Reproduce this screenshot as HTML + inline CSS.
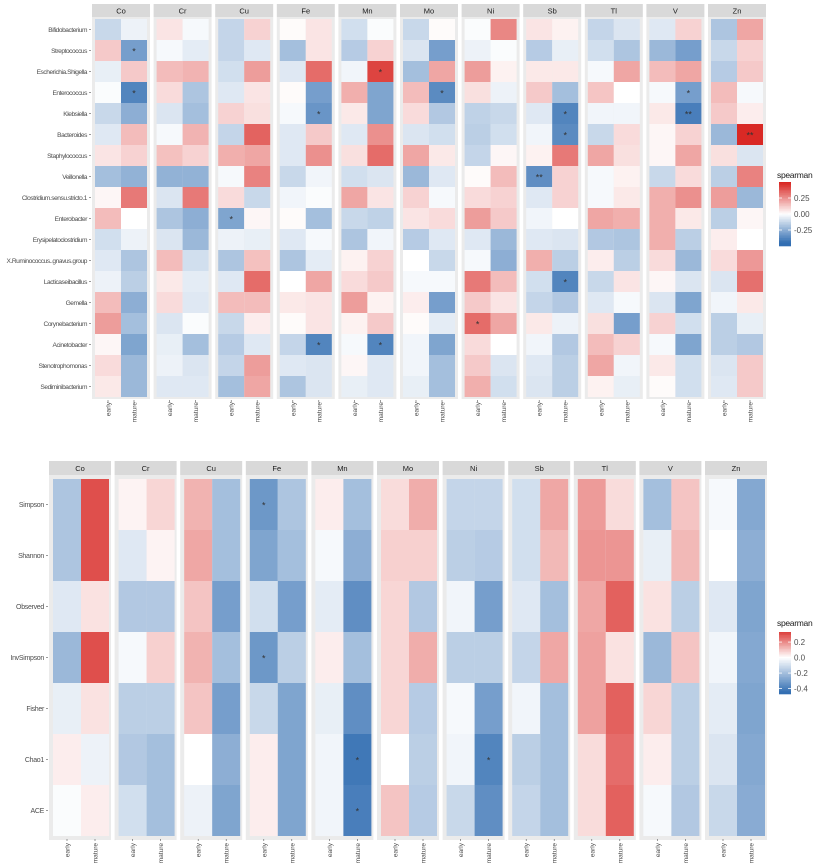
<!DOCTYPE html>
<html><head><meta charset="utf-8">
<style>
html,body{margin:0;padding:0;background:#fff;}
svg{display:block;font-family:"Liberation Sans",sans-serif;}
</style></head>
<body>
<svg id="chart" width="817" height="868" viewBox="0 0 817 868" xmlns="http://www.w3.org/2000/svg"></svg>
<script>
const metals = ["Co","Cr","Cu","Fe","Mn","Mo","Ni","Sb","Tl","V","Zn"];
const stages = ["early","mature"];
const topTaxa = ["Bifidobacterium","Streptococcus","Escherichia.Shigella","Enterococcus","Klebsiella","Bacteroides","Staphylococcus","Veillonella","Clostridium.sensu.stricto.1","Enterobacter","Erysipelatoclostridium","X.Ruminococcus..gnavus.group","Lacticaseibacillus","Gemella","Corynebacterium","Acinetobacter","Stenotrophomonas","Sediminibacterium"];
const topEarly = {
Co:[-0.12,0.12,-0.05,-0.01,-0.12,-0.07,0.06,-0.2,0.02,0.15,-0.1,-0.07,-0.04,0.15,0.22,0.02,0.08,0.05],
Cr:[0.06,-0.02,0.15,0.08,-0.08,-0.02,0.14,-0.24,-0.08,-0.18,-0.08,0.15,0.05,0.08,-0.08,-0.05,-0.04,-0.07],
Cu:[-0.13,-0.13,-0.1,-0.07,0.1,-0.13,0.18,-0.02,0.08,-0.28,-0.04,-0.18,-0.07,0.15,-0.12,-0.16,-0.13,-0.2],
Fe:[0.01,-0.2,-0.07,0.01,-0.02,-0.07,-0.07,-0.12,-0.03,0.01,-0.07,-0.18,0,0.05,0.01,-0.13,-0.07,-0.18],
Mn:[-0.1,-0.16,-0.03,0.18,0.05,-0.07,0.07,-0.1,0.2,-0.12,-0.18,0.03,0.08,0.22,0.03,-0.02,0.02,-0.05],
Mo:[-0.12,-0.08,-0.2,0.15,0.08,-0.08,0.2,-0.22,0.1,0.06,-0.16,0,-0.02,0.04,0.01,-0.03,-0.03,-0.05],
Ni:[-0.01,-0.04,0.22,0.07,-0.14,-0.15,-0.13,0.01,0.08,0.22,-0.07,-0.02,0.3,0.12,0.33,0.08,0.12,0.18],
Sb:[0.06,-0.16,0.05,0.12,-0.07,-0.03,0.03,-0.35,-0.07,-0.03,-0.07,0.18,-0.1,-0.13,0.05,-0.03,-0.07,-0.08],
Tl:[-0.13,-0.1,-0.02,0.13,-0.03,-0.12,0.2,-0.02,-0.02,0.2,-0.17,0.04,-0.12,-0.07,0.07,0.15,0.2,0.03],
V:[-0.07,-0.22,0.15,-0.02,0.05,0.02,0.02,-0.12,0.18,0.18,0.18,0.08,0.02,-0.08,0.1,-0.02,0.05,0.01],
Zn:[-0.18,-0.12,-0.16,0.15,0.12,-0.22,0.07,-0.15,0.22,-0.15,0.04,0.08,-0.08,-0.03,-0.15,-0.15,-0.08,-0.07]};
const topMature = {
Co:[-0.04,-0.3,0.12,-0.38,-0.25,0.15,0.1,-0.24,0.3,0,-0.04,-0.18,-0.15,-0.25,-0.2,-0.28,-0.22,-0.22],
Cr:[-0.02,-0.06,0.17,-0.18,-0.2,0.17,0.1,-0.24,0.3,-0.25,-0.22,-0.1,-0.06,-0.07,-0.01,-0.2,-0.08,-0.07],
Cu:[0.1,-0.07,0.22,0.06,0.07,0.35,0.2,0.28,-0.12,0.02,-0.05,0.14,0.33,0.15,0.04,-0.07,0.22,0.2],
Fe:[0.06,0.06,0.33,-0.3,-0.33,0.12,0.25,-0.03,-0.01,-0.2,-0.02,-0.06,0.2,0.06,0.06,-0.38,-0.08,-0.08],
Mn:[-0.01,0.1,0.42,-0.28,-0.28,0.25,0.33,-0.08,0.06,-0.14,-0.03,0.1,0.12,0.03,0.12,-0.38,-0.07,-0.07],
Mo:[0.01,-0.3,0.2,-0.36,-0.17,-0.1,0.05,-0.07,-0.02,0.08,-0.07,-0.12,-0.02,-0.3,-0.06,-0.28,-0.2,-0.2],
Ni:[0.27,-0.01,0.03,-0.04,-0.12,-0.1,0.02,0.15,0.1,0.12,-0.22,-0.25,0.15,0.06,0.2,0,-0.08,-0.1],
Sb:[0.03,-0.05,0.05,-0.2,-0.38,-0.36,0.3,0.1,0.1,0,-0.08,-0.15,-0.38,-0.17,-0.04,-0.17,-0.15,-0.15],
Tl:[-0.08,-0.18,0.2,0,-0.03,0.08,0.07,0.03,0.05,0.18,-0.18,-0.15,0.06,-0.02,-0.3,0.1,-0.03,-0.05],
V:[0.1,-0.3,0.2,-0.3,-0.4,0.1,0.2,0.08,0.25,0.05,-0.15,-0.22,-0.08,-0.28,-0.1,-0.28,-0.1,-0.1],
Zn:[0.2,0.1,0.12,-0.02,0.04,0.48,-0.08,0.28,-0.22,0.02,0,0.23,0.32,0.05,-0.05,-0.17,0.12,0.12]};
const topStars = [["Co","mature",1,"*"],["Co","mature",3,"*"],["Cu","early",9,"*"],["Fe","mature",4,"*"],["Fe","mature",15,"*"],["Mn","mature",2,"*"],["Mn","mature",15,"*"],["Mo","mature",3,"*"],["Ni","early",14,"*"],["Sb","early",7,"**"],["Sb","mature",4,"*"],["Sb","mature",5,"*"],["Sb","mature",12,"*"],["V","mature",3,"*"],["V","mature",4,"**"],["Zn","mature",5,"**"]];
const topTicks = [0.25,0,-0.25];
const topTickLabels = ["0.25","0.00","-0.25"];

const botIdx = ["Simpson","Shannon","Observed","InvSimpson","Fisher","Chao1","ACE"];
const botEarly = {
Co:[-0.18,-0.18,-0.07,-0.22,-0.05,0.03,-0.01],
Cr:[0.02,-0.07,-0.17,-0.02,-0.15,-0.17,-0.1],
Cu:[0.13,0.15,0.1,0.13,0.1,0,-0.04],
Fe:[-0.32,-0.28,-0.1,-0.32,-0.12,0.03,0.03],
Mn:[0.03,-0.02,-0.06,0.03,-0.05,-0.03,-0.03],
Mo:[0.06,0.08,0.07,0.07,0.07,0,0.1],
Ni:[-0.13,-0.15,-0.03,-0.15,-0.02,-0.03,-0.12],
Sb:[-0.1,-0.1,-0.07,-0.13,-0.03,-0.15,-0.13],
Tl:[0.17,0.18,0.15,0.16,0.16,0.06,0.06],
V:[-0.2,-0.05,0.05,-0.22,0.07,0.03,-0.02],
Zn:[-0.02,0,-0.07,-0.03,-0.06,-0.08,-0.12]};
const botMature = {
Co:[0.3,0.3,0.05,0.3,0.05,-0.04,0.03],
Cr:[0.07,0.02,-0.17,0.08,-0.15,-0.2,-0.2],
Cu:[-0.2,-0.2,-0.3,-0.2,-0.3,-0.25,-0.28],
Fe:[-0.18,-0.2,-0.3,-0.15,-0.28,-0.28,-0.28],
Mn:[-0.2,-0.25,-0.35,-0.2,-0.35,-0.42,-0.4],
Mo:[0.14,0.08,-0.17,0.14,-0.16,-0.15,-0.16],
Ni:[-0.13,-0.16,-0.3,-0.15,-0.3,-0.38,-0.35],
Sb:[0.15,0.12,-0.2,0.15,-0.2,-0.2,-0.2],
Tl:[0.06,0.18,0.27,0.05,0.27,0.25,0.27],
V:[0.1,0.12,-0.15,0.1,-0.15,-0.15,-0.17],
Zn:[-0.27,-0.25,-0.28,-0.27,-0.28,-0.27,-0.26]};
const botStars = [["Fe","early",0,"*"],["Fe","early",3,"*"],["Mn","mature",5,"*"],["Mn","mature",6,"*"],["Ni","mature",5,"*"]];
const botTicks = [0.2,0,-0.2,-0.4];
const botTickLabels = ["0.2","0.0","-0.2","-0.4"];

const NS="http://www.w3.org/2000/svg";
const svg=document.getElementById("chart");
function mk(tag,attrs,parent){const e=document.createElementNS(NS,tag);for(const k in attrs)e.setAttribute(k,attrs[k]);(parent||svg).appendChild(e);return e;}
function colorFn(redMax,blueMin){
  return function(v){
    let r,g,b;
    if(v>=0){const t=Math.min(1,v/redMax);r=255+(215-255)*t;g=255+(32-255)*t;b=255+(28-255)*t;}
    else{const t=Math.min(1,v/blueMin);r=255+(50-255)*t;g=255+(110-255)*t;b=255+(178-255)*t;}
    return "rgb("+Math.round(r)+","+Math.round(g)+","+Math.round(b)+")";
  };
}
function drawChart(cfg){
  const g=mk("g",{});
  
  
  const col=colorFn(cfg.redMax,cfg.blueMin);
  const rows=cfg.rows;
  function yPos(i){return cfg.tileY0+i*cfg.rowH;}
  function xPos(m,s){return cfg.x0+m*cfg.period+cfg.inset+s*cfg.tileW;}
  rows.forEach((r,i)=>{
    const t=mk("text",{x:cfg.x0-5,y:yPos(i)+cfg.rowH/2+2.5,"text-anchor":"end","font-size":cfg.yfs,"letter-spacing":cfg.yls,fill:"#4d4d4d"},g);
    t.textContent=r;
    
    
    mk("line",{x1:cfg.x0-3,x2:cfg.x0-1,y1:yPos(i)+cfg.rowH/2,y2:yPos(i)+cfg.rowH/2,stroke:"#555","stroke-width":0.6},g);
  });
  metals.forEach((m,mi)=>{
    const px=cfg.x0+mi*cfg.period;
    const pg=mk("g",{},g);
    
    
    const st=mk("rect",{x:px,y:cfg.stripY,width:cfg.panelW,height:cfg.stripH,fill:"#d9d9d9"},pg);
    
    
    const stt=mk("text",{x:px+cfg.panelW/2,y:cfg.stripY+cfg.stripH/2+3,"text-anchor":"middle","font-size":cfg.fs,fill:"#1a1a1a"},pg);
    stt.textContent=m;
    
    
    const bg=mk("rect",{x:px,y:cfg.stripY+cfg.stripH,width:cfg.panelW,height:cfg.bgH,fill:"#ebebeb"},pg);
    
    
    stages.forEach((s,si)=>{
      const vals=(si===0?cfg.early:cfg.mature)[m];
      vals.forEach((v,ri)=>{
        const c=mk("rect",{x:xPos(mi,si),y:yPos(ri),width:cfg.tileW,height:cfg.rowH,fill:col(v)},pg);
        
        
      });
      const cx=xPos(mi,si)+cfg.tileW/2;
      mk("line",{x1:cx,x2:cx,y1:cfg.tileY0+rows.length*cfg.rowH+3,y2:cfg.tileY0+rows.length*cfg.rowH+5,stroke:"#555","stroke-width":0.6},pg);
      const lt=mk("text",{transform:"translate("+(cx+2.5)+","+cfg.xLabY+") rotate(-90)","text-anchor":"end","font-size":cfg.fs-1,fill:"#4d4d4d"},pg);
      lt.textContent=s;
      
      
    });
  });
  cfg.stars.forEach(sr=>{
    const mi=metals.indexOf(sr[0]),si=stages.indexOf(sr[1]);
    const t=mk("text",{x:xPos(mi,si)+cfg.tileW/2,y:yPos(sr[2])+cfg.rowH/2+4,"text-anchor":"middle","font-size":9,fill:"#333"},g);
    t.textContent=sr[3];
    
    
  });
  const lg=mk("g",{},g);
  
  
  const lt=mk("text",{x:777,y:cfg.legY,"font-size":8.5,"letter-spacing":-0.3,fill:"#1a1a1a"},lg);
  lt.textContent="spearman";
  
  
  const steps=40;
  for(let k=0;k<steps;k++){
    const v=cfg.legTop-(cfg.legTop-cfg.legBot)*(k+0.5)/steps;
    mk("rect",{x:779,y:cfg.barY+k*cfg.barH/steps,width:12,height:cfg.barH/steps+0.3,fill:col(v)},lg);
  }
  function legY(v){return cfg.barY+(cfg.legTop-v)/(cfg.legTop-cfg.legBot)*cfg.barH;}
  cfg.ticks.forEach((tv,k)=>{
    const y=legY(tv);
    mk("line",{x1:779,x2:782,y1:y,y2:y,stroke:"#fff","stroke-width":0.8},lg);
    mk("line",{x1:788,x2:791,y1:y,y2:y,stroke:"#fff","stroke-width":0.8},lg);
    const tt=mk("text",{x:794,y:y+3,"font-size":8,fill:"#4d4d4d"},lg);
    tt.textContent=cfg.tickLabels[k];
    
    
  });
}
drawChart({name:"taxa-heatmap",rows:topTaxa,early:topEarly,mature:topMature,stars:topStars,
  x0:92,period:61.6,panelW:58,inset:3,tileW:26,stripY:4,stripH:13,bgH:382,tileY0:19,rowH:21,
  xLabY:402,fs:7.5,yfs:6.6,yls:-0.45,redMax:0.5,blueMin:-0.45,legY:178,barY:182,barH:64,legTop:0.5,legBot:-0.5,
  ticks:topTicks,tickLabels:topTickLabels});
drawChart({name:"alpha-diversity-heatmap",rows:botIdx,early:botEarly,mature:botMature,stars:botStars,
  x0:49,period:65.6,panelW:62,inset:4,tileW:28,stripY:461,stripH:14,bgH:365,tileY0:479,rowH:51,
  xLabY:843,fs:7.5,yfs:7,yls:-0.3,redMax:0.38,blueMin:-0.45,legY:626,barY:632,barH:62,legTop:0.33,legBot:-0.47,
  ticks:botTicks,tickLabels:botTickLabels});
</script>
</body></html>
